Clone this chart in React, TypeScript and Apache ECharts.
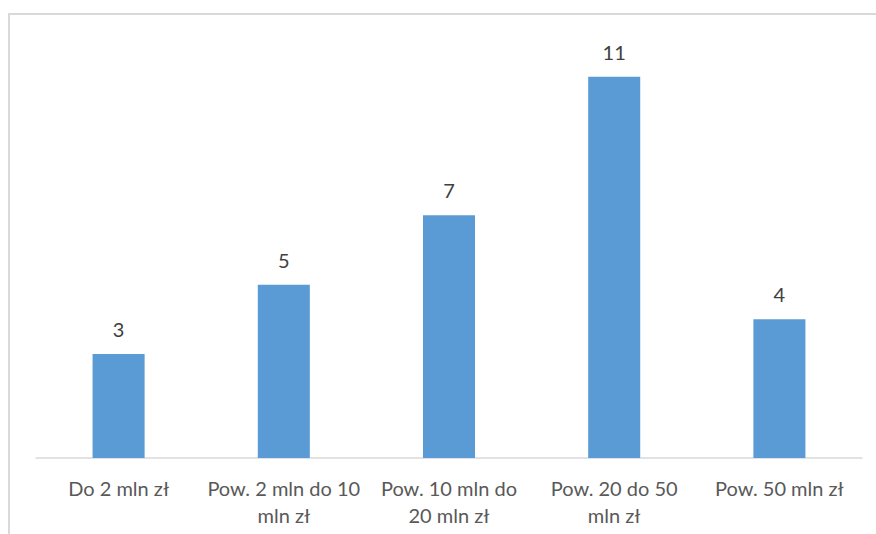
import React, { useEffect, useRef } from "react";
import * as echarts from "echarts";

const categories = [
  "Do 2 mln zł",
  "Pow. 2 mln do 10\nmln zł",
  "Pow. 10 mln do\n20 mln zł",
  "Pow. 20 do 50\nmln zł",
  "Pow. 50 mln zł",
];
const values = [3, 5, 7, 11, 4];

const FONT = "Lato, 'Open Sans', sans-serif";

export default function App() {
  const ref = useRef<HTMLDivElement>(null);
  useEffect(() => {
    if (!ref.current) return;
    const chart = echarts.init(ref.current, undefined, { renderer: "svg" });
    chart.setOption({
      animation: false,
      backgroundColor: "#ffffff",
      graphic: [
        {
          type: "rect",
          shape: { x: 9, y: 14, width: 900, height: 600 },
          style: { fill: "none", stroke: "#d9d9d9", lineWidth: 2 },
          silent: true,
        },
      ],
      grid: { left: 36, right: 14, top: 42, bottom: 76 },
      xAxis: {
        type: "category",
        data: categories,
        axisLine: { lineStyle: { color: "#d9d9d9", width: 1.5 } },
        axisTick: { show: false },
        axisLabel: {
          color: "#595959",
          fontSize: 20,
          fontFamily: FONT,
          lineHeight: 27,
          margin: 16,
          interval: 0,
        },
      },
      yAxis: {
        type: "value",
        min: 0,
        max: 12,
        show: false,
        splitLine: { show: false },
      },
      series: [
        {
          type: "bar",
          data: values,
          barWidth: "31.5%",
          itemStyle: { color: "#5b9bd5" },
          label: {
            show: true,
            position: "top",
            distance: 15,
            color: "#404040",
            fontSize: 20,
            fontFamily: FONT,
          },
        },
      ],
    });
    return () => chart.dispose();
  }, []);
  return (
    <div
      ref={ref}
      style={{ position: "fixed", left: 0, top: 0, width: 876, height: 534 }}
    />
  );
}
